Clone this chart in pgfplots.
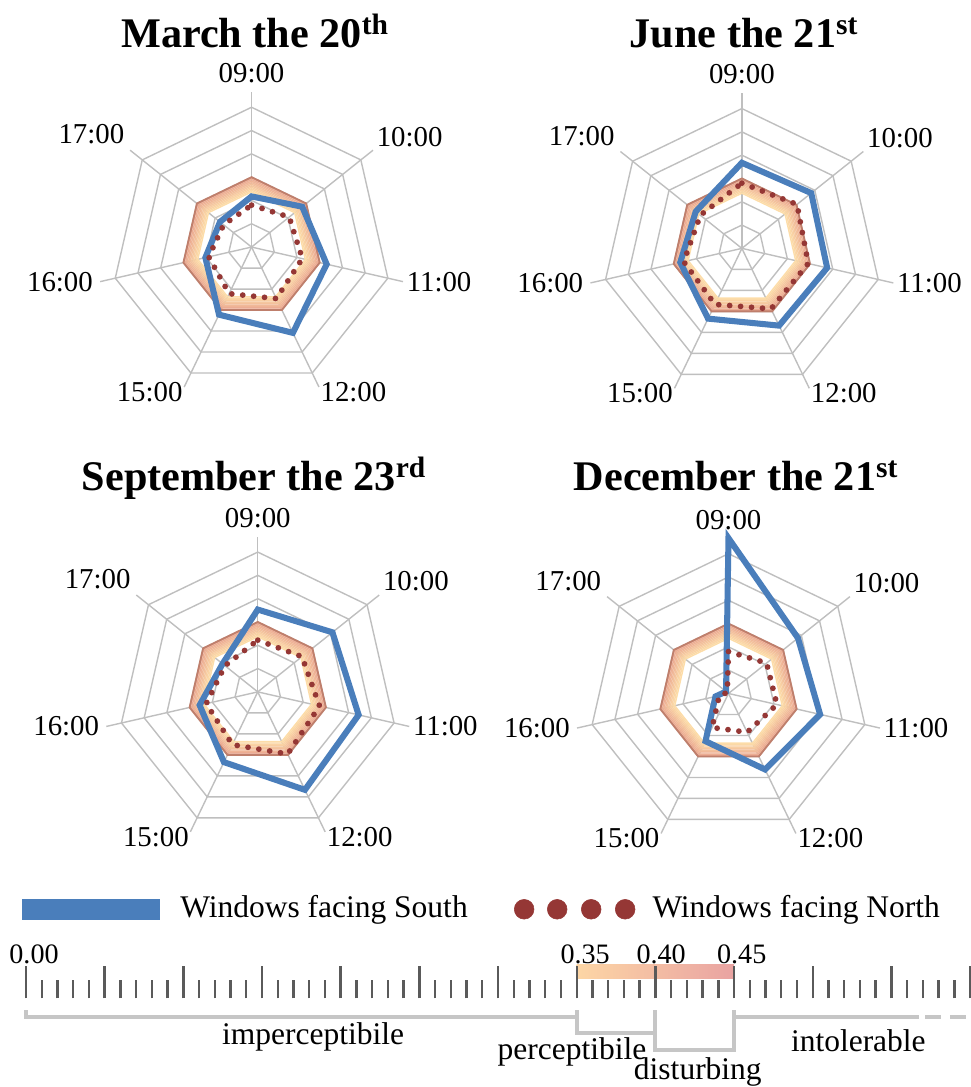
\documentclass[border=0pt]{standalone}
\usepackage{fontspec}
\setmainfont{Liberation Serif}
\usepackage{pgfplots}
\pgfplotsset{compat=1.18}
\definecolor{gridg}{HTML}{BFBFBF}
\definecolor{sblue}{HTML}{4A7EBB}
\definecolor{nred}{HTML}{953735}
\definecolor{bandin}{HTML}{FDDDA9}
\definecolor{bandout}{HTML}{EAA790}
\definecolor{bandedge}{HTML}{BF7F6C}
\definecolor{tickg}{HTML}{5A5A5A}
\definecolor{brack}{HTML}{C6C6C6}
\definecolor{barl}{HTML}{FDD6A5}
\definecolor{barr}{HTML}{E9A3A2}
\newcommand\labfont{\fontsize{20.5}{24}\selectfont}
\newcommand\titfont{\fontsize{30}{34}\selectfont\bfseries}
\newcommand\legfont{\fontsize{22.4}{26}\selectfont}
\newcommand\tickfont{\fontsize{20}{24}\selectfont}
% one heptagon of radius #1
\newcommand{\ring}[2]{\addplot[#2] coordinates {(90,#1) (38.5714,#1) (-12.8571,#1) (-64.2857,#1) (-115.7143,#1) (-167.1429,#1) (141.4286,#1)} -- cycle;}
\newcommand{\spoke}[1]{\addplot[gridg, line width=1pt] coordinates {(#1,0) (#1,1)};}
\newcommand{\bandr}[2]{\ring{#1}{draw=bandout!#2!bandin, line width=0.035cm, line join=miter}}
\newcommand{\radarbase}{%
 \ring{0.15}{gridg, line width=1pt}
 \ring{0.30}{gridg, line width=1pt}
 \ring{0.45}{gridg, line width=1pt}
 \ring{0.60}{gridg, line width=1pt}
 \ring{0.75}{gridg, line width=1pt}
 \ring{0.90}{gridg, line width=1pt}
 \spoke{90}\spoke{38.5714}\spoke{-12.8571}\spoke{-64.2857}\spoke{-115.7143}\spoke{-167.1429}\spoke{141.4286}
 \bandr{0.355}{0}\bandr{0.365}{8}\bandr{0.375}{18}\bandr{0.385}{28}\bandr{0.395}{40}
 \bandr{0.405}{52}\bandr{0.415}{64}\bandr{0.425}{76}\bandr{0.435}{88}\bandr{0.445}{100}
 \ring{0.45}{bandedge, line width=1.3pt}
}
\newcommand{\radarlabels}{%
 \node[lab, anchor=south, inner sep=6pt] at (axis cs:0,1) {09:00};
 \node[lab, anchor=south west] at (axis cs:0.7818,0.6235) {10:00};
 \node[lab, anchor=west] at (axis cs:0.9749,-0.2225) {11:00};
 \node[lab, anchor=north west, inner sep=1pt, yshift=4.7pt] at (axis cs:0.4339,-0.9010) {12:00};
 \node[lab, anchor=north east, inner sep=1pt, yshift=4.7pt] at (axis cs:-0.4339,-0.9010) {15:00};
 \node[lab, anchor=east, inner sep=5pt] at (axis cs:-0.9749,-0.2225) {16:00};
 \node[lab, anchor=south east, inner sep=4pt] at (axis cs:-0.7818,0.6235) {17:00};
}
\tikzset{lab/.style={font=\labfont, inner sep=2.5pt}}
\pgfplotsset{
 radar/.style={x=3.8825cm, y=3.8825cm, xmin=-1.3, xmax=1.3, ymin=-1.3, ymax=1.3,
   hide axis, clip=false, anchor=center,
   every axis plot/.append style={data cs=polar, mark=none}},
 south/.style={sblue, line width=4.3pt, line join=miter},
 north/.style={nred, line width=4.1pt, line cap=round, dash pattern=on 0pt off 7.8pt},
}
\begin{document}
\begin{tikzpicture}[x=0.025cm, y=-0.025cm]
\useasboundingbox (0,0) rectangle (971,1087);

% ---- March
\begin{axis}[radar, at={(6.2875cm,-6.175cm)}]
\radarbase
\addplot[south] coordinates {(90,0.326) (38.5714,0.417) (-12.8571,0.496) (-64.2857,0.613) (-115.7143,0.483) (-167.1429,0.305) (141.4286,0.26)} -- cycle;
\addplot[north] coordinates {(90,0.27) (38.5714,0.31) (-12.8571,0.335) (-64.2857,0.368) (-115.7143,0.333) (-167.1429,0.283) (141.4286,0.23)} -- cycle;
\radarlabels
\end{axis}

% ---- June
\begin{axis}[radar, at={(18.5425cm,-6.2075cm)}]
\radarbase
\addplot[south] coordinates {(90,0.551) (38.5714,0.571) (-12.8571,0.563) (-64.2857,0.552) (-115.7143,0.502) (-167.1429,0.407) (141.4286,0.38)} -- cycle;
\addplot[north] coordinates {(90,0.42) (38.5714,0.454) (-12.8571,0.438) (-64.2857,0.432) (-115.7143,0.40) (-167.1429,0.384) (141.4286,0.342)} -- cycle;
\radarlabels
\end{axis}

% ---- September
\begin{axis}[radar, at={(6.4425cm,-17.2925cm)}]
\radarbase
\addplot[south] coordinates {(90,0.53) (38.5714,0.615) (-12.8571,0.666) (-64.2857,0.70) (-115.7143,0.502) (-167.1429,0.384) (141.4286,0.29)} -- cycle;
\addplot[north] coordinates {(90,0.333) (38.5714,0.364) (-12.8571,0.408) (-64.2857,0.444) (-115.7143,0.377) (-167.1429,0.34) (141.4286,0.27)} -- cycle;
\radarlabels
\end{axis}

% ---- December
\begin{axis}[radar, at={(18.2075cm,-17.3325cm)}]
\radarbase
\addplot[south] coordinates {(90,1.0) (38.5714,0.572) (-12.8571,0.605) (-64.2857,0.543) (-115.7143,0.341) (-167.1429,0.086) (141.4286,0.02)} -- cycle;
\addplot[north] coordinates {(90,0.27) (38.5714,0.314) (-12.8571,0.32) (-64.2857,0.277) (-115.7143,0.243) (-167.1429,0.06) (141.4286,0.01)} -- cycle;
\radarlabels
\end{axis}

% titles
\node[font=\titfont, anchor=base] at (255,47) {March the 20\textsuperscript{th}};
\node[font=\titfont, anchor=base] at (744,47) {June the 21\textsuperscript{st}};
\node[font=\titfont, anchor=base] at (254,490) {September the 23\textsuperscript{rd}};
\node[font=\titfont, anchor=base] at (736,490) {December the 21\textsuperscript{st}};

% ---- scale and legend
\begin{axis}[at={(0.65cm,-24.95cm)}, anchor=south west, x=39.325cm, y=0.025cm,
  xmin=0, xmax=0.601, ymin=0, ymax=100, clip=false,
  axis x line*=bottom, axis y line=none, x axis line style={draw=none},
  xtick={0,0.05,0.1,0.15,0.2,0.25,0.3,0.35,0.4,0.45,0.5,0.55,0.6},
  xticklabels={,,,,,,,,,,,,,}, scaled x ticks=false,
  minor x tick num=4, tick align=inside,
  major tick length=22.8pt, minor tick length=12.8pt,
  tick style={tickg, line width=1.7pt}, axis on top]
\addplot[draw=none, left color=barl, right color=barr] coordinates {(0.35,20) (0.45,20) (0.45,33.5) (0.35,33.5)} -- cycle;
\addplot[brack, line width=2.85pt] coordinates {(0,-12) (0,-19) (0.35,-19)};
\addplot[brack, line width=2.85pt] coordinates {(0.35,-12) (0.35,-35) (0.40,-35)};
\addplot[brack, line width=2.85pt] coordinates {(0.40,-12) (0.40,-52) (0.45,-52) (0.45,-12)};
\addplot[brack, line width=2.85pt] coordinates {(0.45,-19) (0.5677,-19)};
\addplot[brack, line width=2.85pt] coordinates {(0.5716,-19) (0.5817,-19)};
\addplot[brack, line width=2.85pt] coordinates {(0.5874,-19) (0.5976,-19)};
% legend samples
\addplot[sblue, line width=14.9pt] coordinates {(-0.0025,88.5) (0.0852,88.5)};
\addplot[only marks, mark=*, mark size=7pt, nred, mark options={draw=none, fill=nred}] coordinates {(0.3166,89) (0.3376,89) (0.3592,89) (0.3808,89)};
\node[anchor=west, font=\legfont, inner sep=0pt] at (axis cs:0.0979,88) {Windows facing South};
\node[anchor=west, font=\legfont, inner sep=0pt] at (axis cs:0.398,88) {Windows facing North};
% tick labels
\node[font=\tickfont] at (axis cs:0.0051,44) {0.00};
\node[font=\tickfont] at (axis cs:0.3554,44) {0.35};
\node[font=\tickfont] at (axis cs:0.4037,44) {0.40};
\node[font=\tickfont] at (axis cs:0.4549,44) {0.45};
% class labels
\node[font=\legfont] at (axis cs:0.1825,-39) {imperceptibile};
\node[font=\legfont] at (axis cs:0.347,-54) {perceptibile};
\node[font=\legfont] at (axis cs:0.427,-74) {disturbing};
\node[font=\legfont] at (axis cs:0.529,-42) {intolerable};
\end{axis}
\end{tikzpicture}
\end{document}
